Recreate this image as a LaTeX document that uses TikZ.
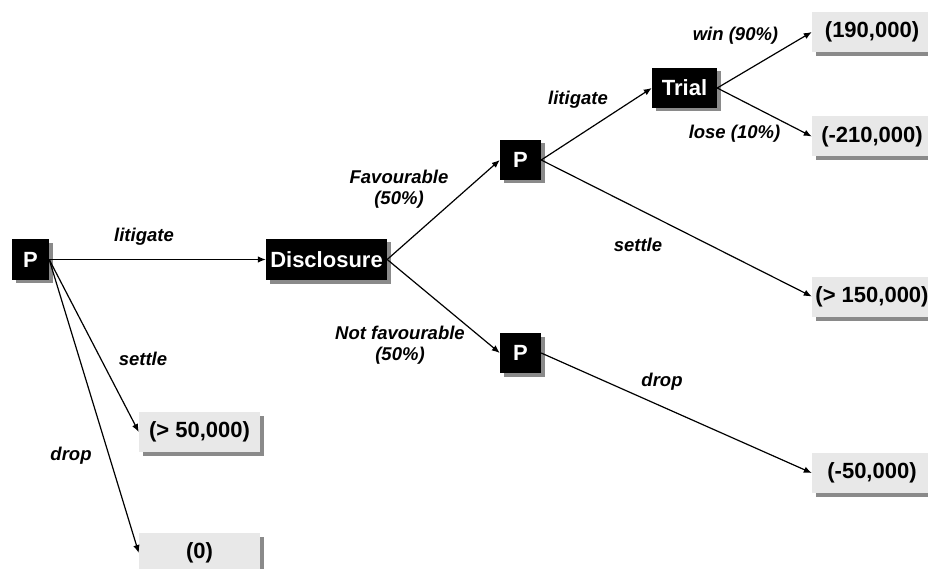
\documentclass[tikz,border=0pt]{standalone}
\usepackage{fontspec}
\setmainfont{Liberation Sans}
\usetikzlibrary{arrows.meta,shadows}
\definecolor{resultfill}{HTML}{E8E8E8}
\definecolor{shadowgray}{HTML}{8A8A8A}
\begin{document}
\begin{tikzpicture}[x=1pt,y=-1pt,
  decision/.style={fill=black,text=white,inner sep=0pt,
    font=\bfseries\fontsize{22}{24}\selectfont,
    minimum width=41pt,minimum height=40pt,
    drop shadow={shadow xshift=3.5pt,shadow yshift=-3.5pt,fill=shadowgray,opacity=1}},
  outcome/.style={fill=resultfill,inner sep=0pt,
    font=\bfseries\fontsize{22}{24}\selectfont,
    minimum width=120pt,minimum height=40pt,
    drop shadow={shadow xshift=4pt,shadow yshift=-4pt,fill=shadowgray,opacity=1}},
  branch/.style={font=\bfseries\itshape\fontsize{18.5}{21}\selectfont,
    inner sep=0pt,align=center},
  link/.style={line width=1.2pt,-{Latex[length=8pt,width=6.5pt]}}]
\useasboundingbox (0,0) rectangle (928,569);
\clip (0,0) rectangle (928,569);

% decision and chance nodes
\node[decision,minimum width=37pt] (p0) at (30.5,259.5) {P};
\node[decision,minimum width=121pt,minimum height=41pt] (disc) at (326.5,259.5) {Disclosure};
\node[decision] (pfav) at (520.5,160) {P};
\node[decision] (pnot) at (520.5,353) {P};
\node[decision,minimum width=65pt] (trial) at (684.5,88) {Trial};

% outcomes
\node[outcome,minimum width=121pt] (settle0) at (199.5,432) {(> 50,000)};
\node[outcome,minimum width=121pt] (drop0) at (199.5,553) {(0)};
\node[outcome] (win) at (872,32) {(190,000)};
\node[outcome] (lose) at (872,136.5) {(-210,000)};
\node[outcome] (settle1) at (872,296.5) {(> 150,000)};
\node[outcome] (drop1) at (872,473) {(-50,000)};

% branches
\draw[link] (p0.east) -- (disc.west);
\draw[link] (p0.east) -- (settle0.west);
\draw[link] (p0.east) -- (drop0.west);
\draw[link] (disc.east) -- (pfav.west);
\draw[link] (disc.east) -- (pnot.west);
\draw[link] (pfav.east) -- (trial.west);
\draw[link] (pfav.east) -- (settle1.west);
\draw[link] (pnot.east) -- (drop1.west);
\draw[link] (trial.east) -- (win.west);
\draw[link] (trial.east) -- (lose.west);

% branch labels
\node[branch] (l1) at (144,237) {litigate};
\node[branch] (l2) at (143,359) {settle};
\node[branch] (l3) at (71,456) {drop};
\node[branch] (l4) at (399,189.5) {Favourable\\(50\%)};
\node[branch] (l5) at (400,345) {Not favourable\\(50\%)};
\node[branch] (l6) at (578,100) {litigate};
\node[branch] (l7) at (638,245) {settle};
\node[branch] (l8) at (662,382) {drop};
\node[branch] (l9) at (735.5,36) {win (90\%)};
\node[branch] (l10) at (734.5,134) {lose (10\%)};
\end{tikzpicture}
\end{document}
